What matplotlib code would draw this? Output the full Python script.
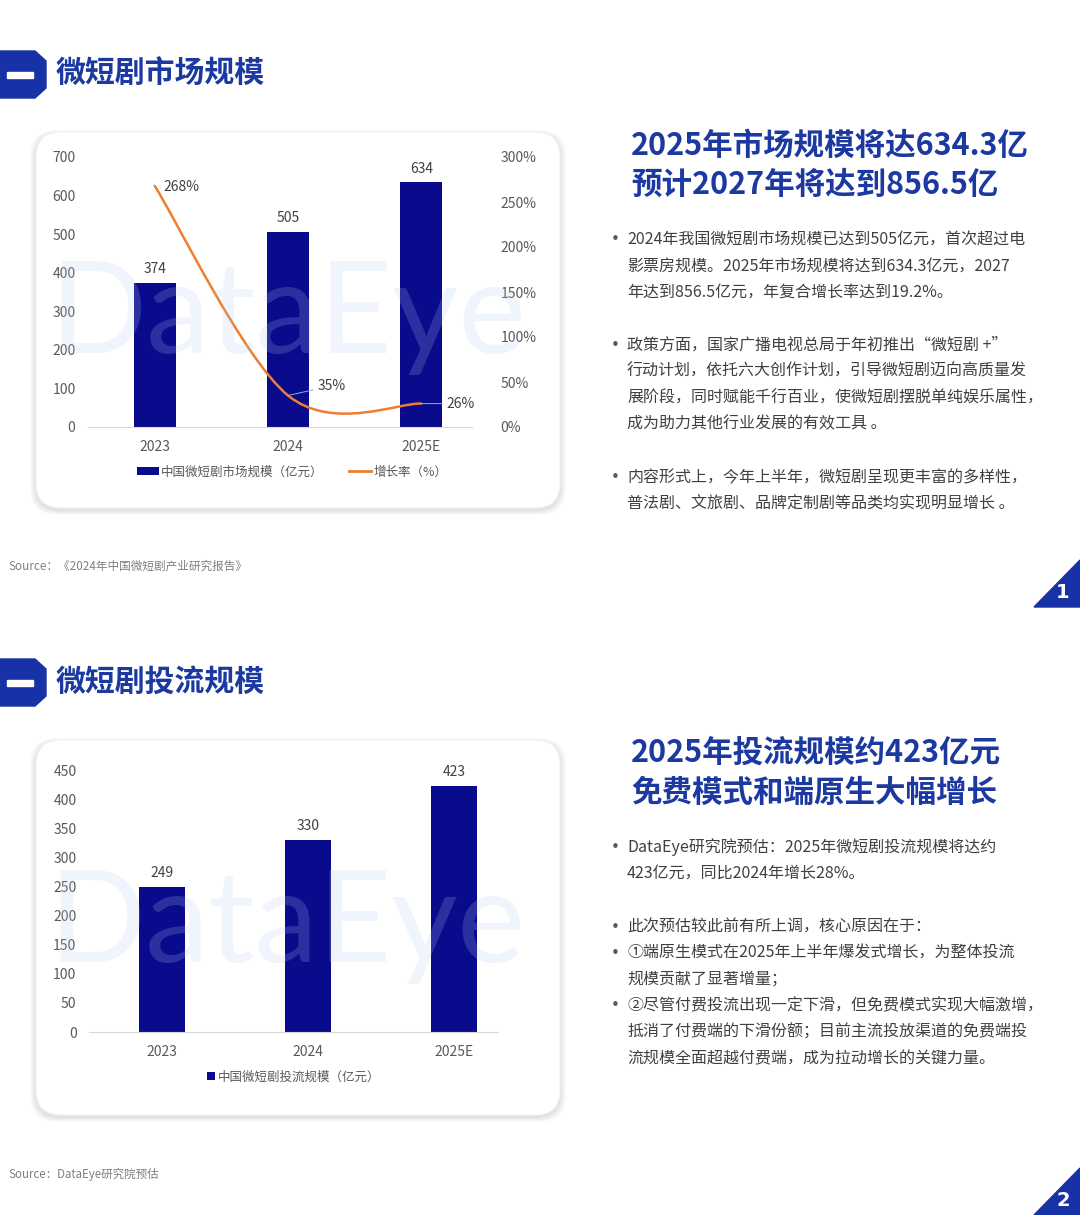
import numpy as np
import matplotlib
matplotlib.use("Agg")
import matplotlib.pyplot as plt
from matplotlib.patches import Polygon, Rectangle, FancyBboxPatch, PathPatch, Patch
from matplotlib.lines import Line2D
from matplotlib.path import Path

plt.rcParams['font.family'] = ['Noto Sans CJK SC', 'DejaVu Sans']

# ---- data ----
years = ['2023', '2024', '2025E']
market_size = [374, 505, 634]        # 亿元
growth_rate = [268, 35, 26]          # %
ad_spend = [249, 330, 423]           # 亿元

market_ticks = [0, 100, 200, 300, 400, 500, 600, 700]
growth_ticks = [0, 50, 100, 150, 200, 250, 300]
spend_ticks = [0, 50, 100, 150, 200, 250, 300, 350, 400, 450]

BLUE = '#1731a6'
TITLE_BLUE = '#1b39a0'
NAVY = '#0a0a8c'
ORANGE = '#ED7D31'
GREY = '#595959'
TEXT = '#404040'

W, H = 1080, 1215
fig = plt.figure(figsize=(10.8, 12.15), dpi=100)
fig.patch.set_facecolor('white')

bg = fig.add_axes([0, 0, 1, 1], zorder=0)
bg.set_xlim(0, W)
bg.set_ylim(H, 0)
bg.axis('off')


def px_axes(left, top, right, bottom):
    return [left / W, 1 - bottom / H, (right - left) / W, (bottom - top) / H]


def header(y, title):
    bg.add_patch(Polygon([(0, y - 23), (35, y - 23), (46, y - 13), (46, y + 14),
                          (35, y + 24), (0, y + 24)], closed=True, color=BLUE))
    bg.add_patch(Rectangle((7, y - 2), 26, 6, color='white'))
    bg.text(56, y, title, fontsize=21.5, weight='bold', color=TITLE_BLUE, va='center')


def card(x0, y0, x1, y1):
    for i in range(10, 0, -1):
        bg.add_patch(FancyBboxPatch((x0 - i * 0.6, y0 - i * 0.4 + 2), x1 - x0 + i * 1.2,
                                    y1 - y0 + i * 0.9,
                                    boxstyle='round,pad=0,rounding_size=26',
                                    fc='black', ec='none', alpha=0.010))
    bg.add_patch(FancyBboxPatch((x0, y0), x1 - x0, y1 - y0,
                                boxstyle='round,pad=0,rounding_size=25',
                                fc='white', ec='#f2f2f2', lw=0.8))


def page_mark(y_bottom, num):
    bg.add_patch(Polygon([(1034, y_bottom), (1080, y_bottom - 47), (1080, y_bottom)],
                         closed=True, color=BLUE))
    bg.text(1063, y_bottom - 15, num, fontsize=14, weight='bold', color='white',
            ha='center', va='center', family='DejaVu Sans')


def text_block(x, lines, title_lines, title_ys):
    for t, y in zip(title_lines, title_ys):
        bg.text(x + 16, y, t, fontsize=22, weight='bold', color=TITLE_BLUE, va='center')
    for y, t, bullet in lines:
        if bullet:
            bg.text(x, y, '•', fontsize=11, color=GREY, va='center', ha='center',
                    family='DejaVu Sans')
        bg.text(x + 12, y, t, fontsize=11.5, color=TEXT, va='center')


def smooth_path(xs, ys):
    pts = list(zip(xs, ys))
    n = len(pts)
    verts = [pts[0]]
    codes = [Path.MOVETO]
    for i in range(n - 1):
        p0 = pts[i - 1] if i > 0 else pts[i]
        p1 = pts[i]
        p2 = pts[i + 1]
        p3 = pts[i + 2] if i + 2 < n else pts[i + 1]
        c1 = (p1[0] + (p2[0] - p0[0]) / 6, p1[1] + (p2[1] - p0[1]) / 6)
        c2 = (p2[0] - (p3[0] - p1[0]) / 6, p2[1] - (p3[1] - p1[1]) / 6)
        verts += [c1, c2, p2]
        codes += [Path.CURVE4] * 3
    return Path(verts, codes)


def style_axis(ax, right_bound):
    for s in ['top', 'right', 'left']:
        ax.spines[s].set_visible(False)
    ax.spines['bottom'].set_color('#d9d9d9')
    ax.spines['bottom'].set_bounds(-0.5, right_bound)
    ax.tick_params(length=0, labelsize=10, labelcolor=GREY)
    ax.set_facecolor('none')


# ================= section 1 =================
header(74, '微短剧市场规模')
card(36, 132, 560, 508)

ax = fig.add_axes(px_axes(88, 157, 488, 427), zorder=2)
x = np.arange(len(years))
bars = ax.bar(x, market_size, width=0.315, color=NAVY, zorder=2)
ax.bar_label(bars, padding=5, fontsize=10, color=TEXT)
ax.set_xlim(-0.5, 2.5)
ax.set_ylim(0, 700)
ax.set_yticks(market_ticks)
ax.set_xticks(x)
ax.set_xticklabels(years)
style_axis(ax, 2.38)
ax.tick_params(axis='y', pad=9)
ax.tick_params(axis='x', pad=9.5)

ax2 = ax.twinx()
ax2.set_ylim(0, 300)
ax2.set_yticks(growth_ticks)
ax2.set_yticklabels([f'{v}%' for v in growth_ticks])
for s in ax2.spines.values():
    s.set_visible(False)
ax2.tick_params(length=0, labelsize=10, labelcolor=GREY, pad=9)
ax2.add_patch(PathPatch(smooth_path(x, growth_rate), fc='none', ec=ORANGE, lw=1.8,
                        capstyle='round', zorder=3))

label_offsets = [(6, -1), (21, 7), (18, 0)]
for i, (v, off) in enumerate(zip(growth_rate, label_offsets)):
    arrow = None if i == 0 else dict(arrowstyle='-', color='#8faadc', lw=0.7,
                                     shrinkA=1, shrinkB=0)
    ax2.annotate(f'{v}%', xy=(x[i], v), xytext=off, textcoords='offset points',
                 ha='left', va='center', fontsize=10, color=TEXT, arrowprops=arrow)

handles = [Patch(fc=NAVY, ec='none'), Line2D([], [], color=ORANGE, lw=2)]
ax.legend(handles, ['中国微短剧市场规模（亿元）', '增长率（%）'], ncol=2, frameon=False,
          loc='center', bbox_to_anchor=(292 / W, 1 - 472 / H), bbox_transform=fig.transFigure,
          fontsize=9, labelcolor=GREY, handlelength=1.75, handleheight=0.6,
          handletextpad=0.15, columnspacing=2.1)

fig.text(288 / W, 1 - 353 / H, 'DataEye', fontsize=92, family='Lato', color='#b8c8f0',
         alpha=0.2, ha='center', va='baseline', zorder=5)

text_block(615, [
    (240, '2024年我国微短剧市场规模已达到505亿元，首次超过电', True),
    (266, '影票房规模。2025年市场规模将达到634.3亿元，2027', False),
    (292, '年达到856.5亿元，年复合增长率达到19.2%。', False),
    (345, '政策方面，国家广播电视总局于年初推出“微短剧 +”', True),
    (371, '行动计划，依托六大创作计划，引导微短剧迈向高质量发', False),
    (398, '展阶段，同时赋能千行百业，使微短剧摆脱单纯娱乐属性，', False),
    (424, '成为助力其他行业发展的有效工具 。', False),
    (478, '内容形式上，今年上半年，微短剧呈现更丰富的多样性，', True),
    (504, '普法剧、文旅剧、品牌定制剧等品类均实现明显增长 。', False),
], ['2025年市场规模将达634.3亿', '预计2027年将达到856.5亿'], [146, 185])

bg.text(8, 566, 'Source：《2024年中国微短剧产业研究报告》', fontsize=8.4, color='#7f7f7f',
        va='center')
page_mark(607, '1')

# ================= section 2 =================
header(682, '微短剧投流规模')
card(36, 740, 560, 1115)

bx = fig.add_axes(px_axes(89, 770, 527, 1032), zorder=2)
bars2 = bx.bar(x, ad_spend, width=0.31, color=NAVY, zorder=2)
bx.bar_label(bars2, padding=5, fontsize=10, color=TEXT)
bx.set_xlim(-0.5, 2.5)
bx.set_ylim(0, 450)
bx.set_yticks(spend_ticks)
bx.set_xticks(x)
bx.set_xticklabels(years)
style_axis(bx, 2.3)
bx.tick_params(axis='y', pad=9)
bx.tick_params(axis='x', pad=9)
bx.legend([Patch(fc=NAVY, ec='none')], ['中国微短剧投流规模（亿元）'], frameon=False,
          loc='center', bbox_to_anchor=(294 / W, 1 - 1077 / H), bbox_transform=fig.transFigure,
          fontsize=9, labelcolor=GREY, handlelength=0.6, handleheight=0.6,
          handletextpad=0.25)

fig.text(287 / W, 1 - 962 / H, 'DataEye', fontsize=92, family='Lato', color='#b8c8f0',
         alpha=0.2, ha='center', va='baseline', zorder=5)

text_block(615, [
    (847, 'DataEye研究院预估：2025年微短剧投流规模将达约', True),
    (873, '423亿元，同比2024年增长28%。', False),
    (927, '此次预估较此前有所上调，核心原因在于：', True),
    (953, '①端原生模式在2025年上半年爆发式增长，为整体投流', True),
    (979, '规模贡献了显著增量；', False),
    (1006, '②尽管付费投流出现一定下滑，但免费模式实现大幅激增，', True),
    (1032, '抵消了付费端的下滑份额；目前主流投放渠道的免费端投', False),
    (1059, '流规模全面超越付费端，成为拉动增长的关键力量。', False),
], ['2025年投流规模约423亿元', '免费模式和端原生大幅增长'], [753, 793])

bg.text(8, 1174, 'Source：DataEye研究院预估', fontsize=8.3, color='#7f7f7f', va='center')
page_mark(1215, '2')

fig.savefig('out.png', dpi=100, facecolor='white')
